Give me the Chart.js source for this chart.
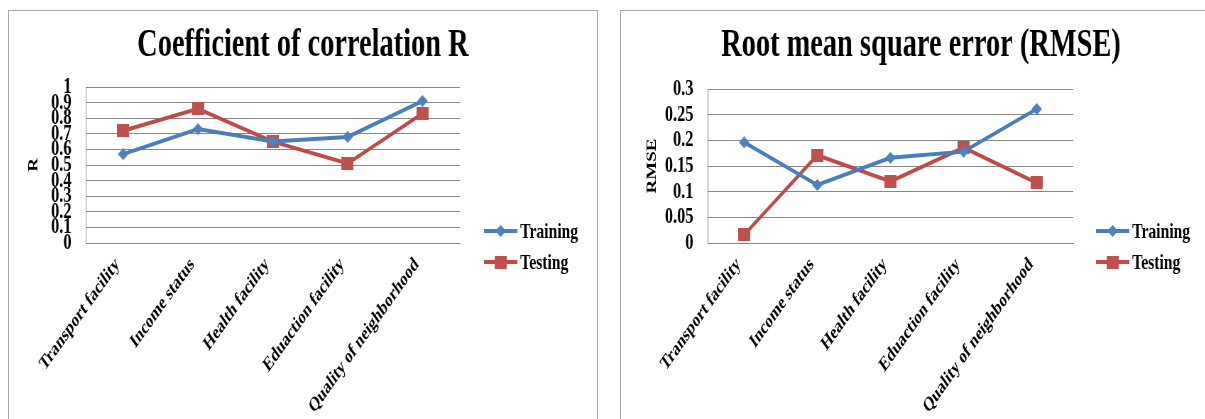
<!DOCTYPE html>
<html>
<head>
<meta charset="utf-8">
<script src="https://cdn.jsdelivr.net/npm/chart.js@4/dist/chart.umd.min.js"></script>
<style>
  html, body { margin: 0; padding: 0; background: #fff; overflow: hidden; width: 1205px; height: 419px; }
  .panel { position: absolute; top: 10px; height: 420px; border: 1px solid #a6a6a6; border-bottom: none; overflow: hidden; background: #fff; }
  #panelR { left: 8px; width: 588px; }
  #panelRmse { left: 620px; width: 600px; border-right: none; }
  /* charts are laid out wide and narrowed horizontally, giving the tall condensed lettering */
  canvas { position: absolute; left: 0; top: 0; transform-origin: 0 0; transform: scaleX(0.71); }
</style>
</head>
<body>
<div class="panel" id="panelR"><canvas id="chartR" width="828" height="420"></canvas></div>
<div class="panel" id="panelRmse"><canvas id="chartRmse" width="845" height="420"></canvas></div>
<script>
// ---- data ----
const categories = ['Transport facility', 'Income status', 'Health facility', 'Eduaction facility', 'Quality of neighborhood'];
const seriesNames = ['Training', 'Testing'];

const rTraining = [0.57, 0.73, 0.65, 0.68, 0.91];
const rTesting  = [0.72, 0.86, 0.65, 0.51, 0.83];
const rTicks = [0, 0.1, 0.2, 0.3, 0.4, 0.5, 0.6, 0.7, 0.8, 0.9, 1];

const rmseTraining = [0.196, 0.113, 0.166, 0.178, 0.261];
const rmseTesting  = [0.016, 0.171, 0.120, 0.186, 0.117];
const rmseTicks = [0, 0.05, 0.1, 0.15, 0.2, 0.25, 0.3];

// ---- styling ----
const FONT = "'Liberation Serif', 'Times New Roman', serif";
const BLUE = '#4A7EBB';
const RED = '#BE4B48';
const GRID = '#878787';

Chart.defaults.font.family = FONT;
Chart.defaults.font.weight = 'bold';
Chart.defaults.color = '#000';

function makeMarker(shape, color, w, h) {
  const c = document.createElement('canvas');
  c.width = w; c.height = h;
  const g = c.getContext('2d');
  g.fillStyle = color;
  if (shape === 'square') {
    g.fillRect(0, 0, w, h);
  } else {
    g.beginPath();
    g.moveTo(w / 2, 0); g.lineTo(w, h / 2); g.lineTo(w / 2, h); g.lineTo(0, h / 2);
    g.closePath(); g.fill();
  }
  return c;
}
const diamond = makeMarker('diamond', '#4F81BD', 15, 12);
const square = makeMarker('square', '#C0504D', 17, 13);

// legend drawn beside the plot: a short line with the marker, then the name
const sideLegend = {
  id: 'sideLegend',
  afterDraw(chart, args, opts) {
    const { ctx, chartArea } = chart;
    ctx.save();
    chart.data.datasets.forEach((ds, i) => {
      const y = chartArea.bottom + opts.rows[i];
      const x0 = chartArea.right + opts.gap;
      ctx.strokeStyle = ds.borderColor;
      ctx.lineWidth = ds.borderWidth;
      ctx.beginPath(); ctx.moveTo(x0, y); ctx.lineTo(x0 + opts.lineLen, y); ctx.stroke();
      const img = ds.pointStyle;
      ctx.drawImage(img, x0 + opts.lineLen / 2 - img.width / 2, y - img.height / 2);
      ctx.fillStyle = '#000';
      ctx.font = 'bold 22px ' + FONT;
      ctx.textBaseline = 'middle';
      ctx.textAlign = 'left';
      ctx.fillText(ds.label, x0 + opts.lineLen + 4, y + 1);
    });
    ctx.restore();
  }
};

function buildChart(id, cfg) {
  return new Chart(document.getElementById(id), {
    type: 'line',
    data: {
      labels: categories,
      datasets: [
        { label: seriesNames[0], data: cfg.training, borderColor: BLUE, borderWidth: 4,
          pointStyle: diamond, pointRadius: 7, tension: 0, clip: false },
        { label: seriesNames[1], data: cfg.testing, borderColor: RED, borderWidth: 4,
          pointStyle: square, pointRadius: 7, tension: 0, clip: false }
      ]
    },
    options: {
      responsive: false,
      animation: false,
      devicePixelRatio: 1,
      layout: { padding: 0 },
      plugins: {
        legend: { display: false },
        tooltip: { enabled: false },
        title: {
          display: true,
          text: cfg.title,
          font: { size: 40, weight: 'bold', lineHeight: 1.2 },
          color: '#000',
          padding: { top: 11, bottom: cfg.titleGap }
        },
        sideLegend: { gap: cfg.legendGap, lineLen: 47, rows: [-12, 19] }
      },
      scales: {
        x: {
          offset: true,
          grid: { display: false, offset: true },
          border: { display: true, color: GRID, width: 1 },
          ticks: { autoSkip: false, minRotation: 45, maxRotation: 45, padding: 2, labelOffset: -8,
                   font: { size: 20, weight: 'bold' }, color: '#000' },
          afterFit: s => { s.height = 188; }
        },
        y: {
          min: 0,
          max: cfg.ticks[cfg.ticks.length - 1],
          afterBuildTicks: s => { s.ticks = cfg.ticks.map(v => ({ value: v })); },
          grid: { color: GRID, lineWidth: 1, drawTicks: false },
          border: { display: true, color: GRID, width: 1 },
          ticks: { autoSkip: false, padding: 20, callback: v => String(v),
                   font: { size: 23, weight: 'bold', lineHeight: 1 }, color: '#000' },
          title: { display: true, text: cfg.axisTitle, color: '#000',
                   font: { size: 19, weight: 'bold', lineHeight: 1.2 },
                   padding: { top: cfg.axisTitleOffset, bottom: 0 } },
          afterFit: s => { s.width = cfg.axisWidth; }
        },
        gutter: {
          type: 'linear',
          position: 'right',
          display: true,
          grid: { display: false },
          border: { display: false },
          ticks: { display: false },
          afterFit: s => { s.width = cfg.rightSpace; }
        }
      }
    },
    plugins: [sideLegend]
  });
}

buildChart('chartR', {
  title: 'Coefficient of correlation R',
  axisTitle: 'R',
  training: rTraining,
  testing: rTesting,
  ticks: rTicks,
  titleGap: 17,
  axisWidth: 108,
  axisTitleOffset: 24,
  rightSpace: 193,
  legendGap: 34
});

buildChart('chartRmse', {
  title: 'Root mean square error (RMSE)',
  axisTitle: 'RMSE',
  training: rmseTraining,
  testing: rmseTesting,
  ticks: rmseTicks,
  titleGap: 19,
  axisWidth: 122,
  axisTitleOffset: 33,
  rightSpace: 208,
  legendGap: 32
});
</script>
</body>
</html>
